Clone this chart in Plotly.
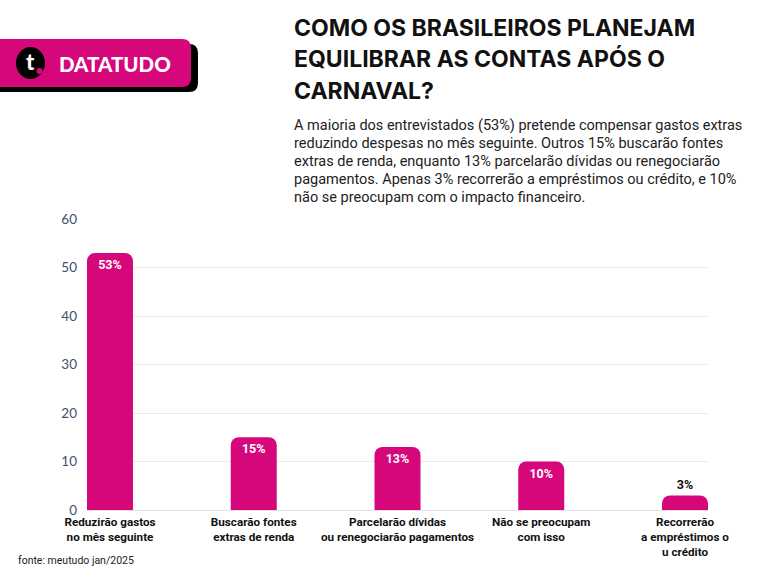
"""Datatudo: como os brasileiros planejam equilibrar as contas após o carnaval."""

import plotly.graph_objects as go

CATEGORIAS = [
    "Reduzirão gastos<br>no mês seguinte",
    "Buscarão fontes<br>extras de renda",
    "Parcelarão dívidas<br>ou renegociarão pagamentos",
    "Não se preocupam<br>com isso",
    "Recorrerão<br>a empréstimos o<br>u crédito",
]
PERCENTUAIS = [53, 15, 13, 10, 3]
Y_TICKS = [0, 10, 20, 30, 40, 50, 60]

TITULO = ["COMO OS BRASILEIROS PLANEJAM", "EQUILIBRAR AS CONTAS APÓS O", "CARNAVAL?"]
SUBTITULO = [
    "A maioria dos entrevistados (53%) pretende compensar gastos extras",
    "reduzindo despesas no mês seguinte. Outros 15% buscarão fontes",
    "extras de renda, enquanto 13% parcelarão dívidas ou renegociarão",
    "pagamentos. Apenas 3% recorrerão a empréstimos ou crédito, e 10%",
    "não se preocupam com o impacto financeiro.",
]
FONTE = "fonte: meutudo jan/2025"

MAGENTA = "#d6067b"
W, H = 772, 572
# área do gráfico em pixels
L, R, T, B = 87, 708, 219, 510


def px(x):
    return (x - L) / (R - L)


def py(y):
    return (B - y) / (B - T)


def rrect(x0, y0, x1, y1, r):
    """Retângulo com cantos direitos arredondados, em coordenadas paper."""
    pts = [
        ("M", x0, y0), ("L", x1 - r, y0), ("Q", x1, y0, x1, y0 + r),
        ("L", x1, y1 - r), ("Q", x1, y1, x1 - r, y1), ("L", x0, y1),
    ]
    out = []
    for p in pts:
        cmd, coords = p[0], p[1:]
        xy = []
        for i in range(0, len(coords), 2):
            xy.append(f"{px(coords[i]):.4f},{py(coords[i + 1]):.4f}")
        out.append(cmd + " " + " ".join(xy))
    return " ".join(out) + " Z"


fig = go.Figure(
    go.Bar(
        x=CATEGORIAS,
        y=PERCENTUAIS,
        text=[f"<b>{v}%</b>" for v in PERCENTUAIS],
        textposition=["inside"] * 4 + ["outside"],
        insidetextanchor="end",
        insidetextfont=dict(color="white", size=12.5, family="Roboto"),
        outsidetextfont=dict(color="#111111", size=12.5, family="Roboto"),
        textangle=0,
        constraintext="none",
        cliponaxis=False,
        marker=dict(color=MAGENTA, cornerradius=8, line=dict(width=0)),
        width=0.32,
        hoverinfo="skip",
    )
)

fig.update_layout(
    width=W,
    height=H,
    margin=dict(l=L, r=W - R, t=T, b=H - B, pad=0),
    paper_bgcolor="white",
    plot_bgcolor="white",
    showlegend=False,
    font=dict(family="Roboto", color="#222222"),
    xaxis=dict(
        type="category",
        range=[-0.16, 4.16],
        showgrid=False,
        showline=False,
        ticks="",
        ticklabelstandoff=3,
        tickfont=dict(family="Roboto", size=11.7, color="#111111", weight="bold"),
    ),
    yaxis=dict(
        range=[0, 60],
        tickvals=Y_TICKS,
        showgrid=True,
        gridcolor="#ebebeb",
        gridwidth=1,
        zeroline=True,
        zerolinecolor="#e3e3e3",
        zerolinewidth=1,
        showline=False,
        ticks="",
        ticklabelstandoff=9,
        tickfont=dict(family="Lato", size=13.5, color="#44506a"),
    ),
)

# logo DATATUDO
fig.add_shape(type="path", xref="paper", yref="paper", path=rrect(-20, 44, 198, 92, 9),
              fillcolor="black", line=dict(width=0), layer="above")
fig.add_shape(type="path", xref="paper", yref="paper", path=rrect(-20, 39, 191, 87, 9),
              fillcolor=MAGENTA, line=dict(width=0), layer="above")
fig.add_shape(type="circle", xref="paper", yref="paper",
              x0=px(16), x1=px(45), y0=py(79), y1=py(47),
              fillcolor="black", line=dict(width=0), layer="above")
fig.add_shape(type="circle", xref="paper", yref="paper",
              x0=px(36.5), x1=px(42.5), y0=py(74), y1=py(68),
              fillcolor=MAGENTA, line=dict(width=0), layer="above")

annotations = [
    dict(x=px(30), y=py(62), text="t", font=dict(family="Lato", size=22, color="white", weight=900),
         xanchor="center", yanchor="middle"),
    dict(x=px(57), y=py(64), text="DATATUDO",
         font=dict(family="Lato", size=20.5, color="white", weight=900),
         xanchor="left", yanchor="middle"),
]

for i, linha in enumerate(TITULO):
    annotations.append(
        dict(x=px(292), y=py(28 + 31.5 * i), text=linha, xanchor="left", yanchor="middle",
             font=dict(family="Inter", size=23, color="#111111", weight="bold"))
    )

for i, linha in enumerate(SUBTITULO):
    annotations.append(
        dict(x=px(292), y=py(125 + 18.2 * i), text=linha, xanchor="left", yanchor="middle",
             font=dict(family="Roboto", size=14.5, color="#222222"))
    )

annotations.append(
    dict(x=px(16), y=py(560), text=FONTE, xanchor="left", yanchor="middle",
         font=dict(family="Roboto", size=10.5, color="#222222"))
)

for a in annotations:
    a.update(xref="paper", yref="paper", showarrow=False)
fig.update_layout(annotations=annotations)

fig.write_html(
    "out.html",
    config={"displayModeBar": False},
    post_script="document.body.style.margin='0';document.body.style.overflow='hidden';",
)
